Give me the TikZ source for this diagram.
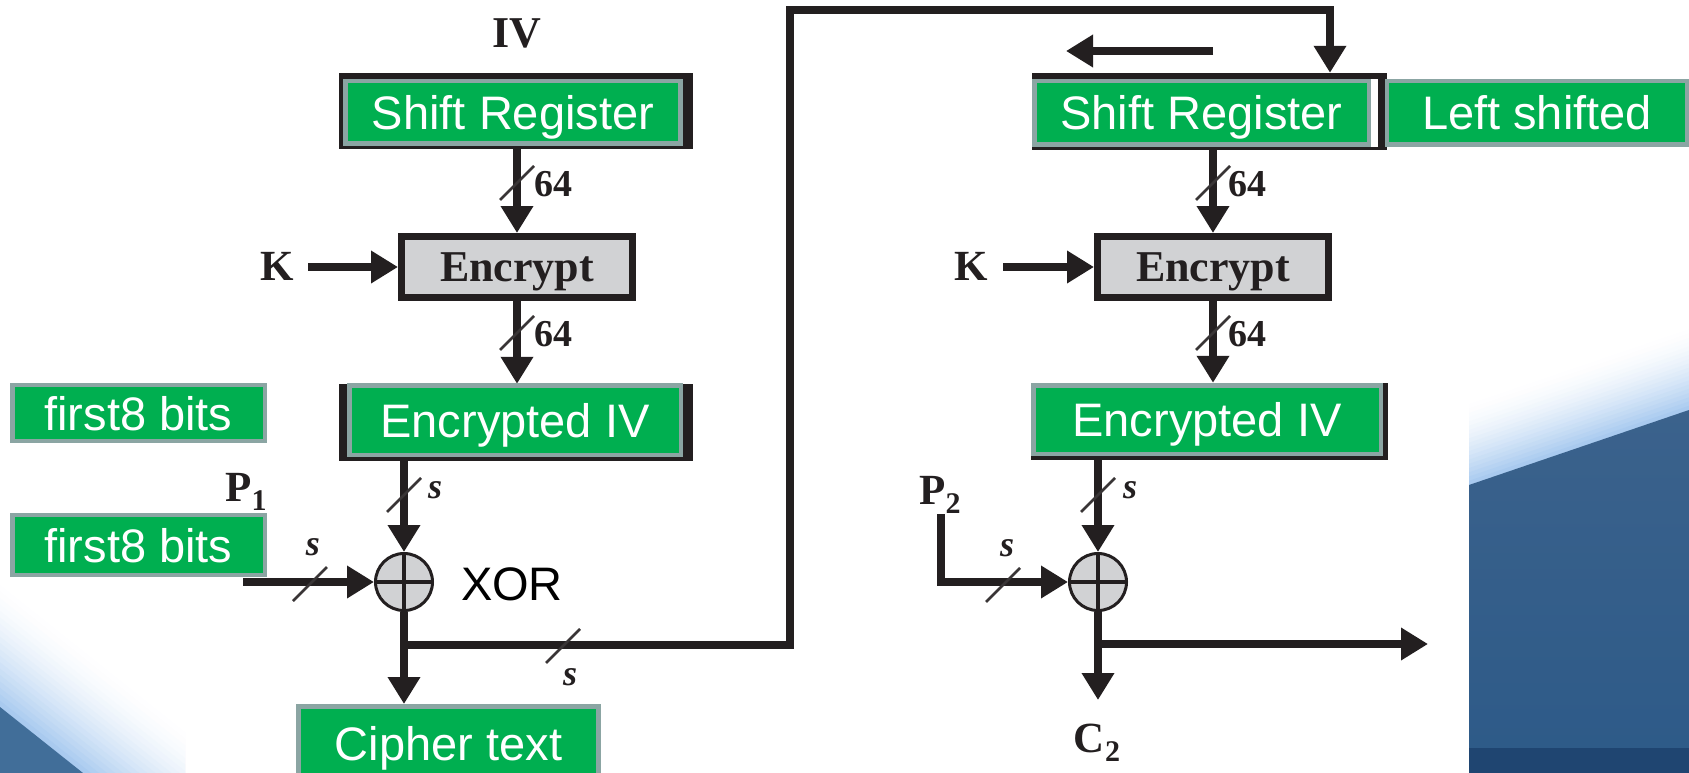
\documentclass[tikz,border=0pt]{standalone}
\usepackage{fontspec}
\setmainfont{Liberation Serif}
\newfontfamily\arialf{Liberation Sans}
\usetikzlibrary{arrows.meta,calc}
\definecolor{ink}{HTML}{231F20}
\definecolor{pgreen}{HTML}{00AF50}
\definecolor{pgrey}{HTML}{8BA5A3}
\definecolor{encgrey}{HTML}{D1D2D4}
\definecolor{lb}{HTML}{A2C6EE}
\definecolor{bgA}{HTML}{3B628C}
\definecolor{bgB}{HTML}{7D95AE}
\definecolor{bgC}{HTML}{2D5A88}
\definecolor{bgD}{HTML}{1F4571}
\definecolor{bgL}{HTML}{416E99}
\newcommand\subsc[1]{\raisebox{-9pt}{\fontsize{30}{30}\selectfont #1}}
\newcommand\slashmark[1]{\draw[tick] ($#1+(-17,17)$) -- ++(34,-34);}
\tikzset{
  greenbox/.style={rectangle, draw=pgrey, line width=4.5pt, fill=pgreen, text=white,
    font=\arialf\fontsize{47}{47}\selectfont, inner sep=0pt, text height=34pt, text depth=0pt},
  blackbg/.style={rectangle, fill=ink, draw=none, inner sep=0pt},
  encbox/.style={rectangle, draw=ink, line width=7pt, fill=encgrey, text=ink,
    font=\bfseries\fontsize{44}{44}\selectfont, minimum width=231pt, minimum height=61pt,
    inner sep=0pt, text height=29pt, text depth=0pt},
  lbl/.style={text=ink, font=\bfseries\fontsize{43}{43}\selectfont, inner sep=0pt, text height=29pt, text depth=0pt},
  num/.style={text=ink, font=\bfseries\fontsize{38}{38}\selectfont, inner sep=0pt, text height=26pt, text depth=0pt},
  slbl/.style={text=ink, font=\bfseries\itshape\fontsize{36}{36}\selectfont, inner sep=0pt, text height=17pt, text depth=0pt},
  wire/.style={draw=ink, line width=7.5pt},
  arr/.style={wire, -{Triangle[length=27pt,width=31pt]}},
  tick/.style={draw=ink!90, line width=2.8pt},
  xorc/.style={circle, draw=ink, line width=3pt, fill=encgrey, minimum size=57pt, inner sep=0pt},
  xortext/.style={text=black, font=\arialf\fontsize{47}{47}\selectfont, inner sep=0pt, text height=34pt, text depth=0pt}
}
\begin{document}
\begin{tikzpicture}[x=1pt,y=-1pt]
\useasboundingbox (0,0) rectangle (1689,773);
\fill[white] (0,0) rectangle (1689,773);
% ---------- background swooshes ----------
\begin{scope}
  \clip (0,520) rectangle (185,773);
  \foreach \d in {100,95,...,0} {
    \pgfmathsetmacro\pc{100*(1-\d/100)^1.6}
    \fill[lb!\pc!white] (0,{707-1.2784*\d}) -- ({83+1.6077*\d},773) -- (0,773) -- cycle;
  }
  \fill[bgL] (0,707) -- (83,773) -- (0,773) -- cycle;
\end{scope}
\begin{scope}
  \clip (1469,300) rectangle (1689,773);
  \foreach \d in {80,76,...,0} {
    \pgfmathsetmacro\pc{100*(1-\d/80)^1.6}
    \fill[lb!\pc!white] (1469,{485-1.057*\d}) -- (1689,{410-1.057*\d}) -- (1689,773) -- (1469,773) -- cycle;
  }
  \shade[top color=bgA, middle color=bgB, bottom color=bgC] (1469,485) -- (1689,410) -- (1689,773) -- (1469,773) -- cycle;
  \fill[bgD] (1469,748) rectangle (1689,773);
\end{scope}
% ---------- left column ----------
\node[lbl, font=\bfseries\fontsize{44}{44}\selectfont] (iv) at (517,33) {IV};
\node[blackbg, minimum width=354pt, minimum height=76pt] (sr1bg) at (516,111) {};
\node[encbox] (enc1) at (517,267) {Encrypt};
\node[lbl] (k1) at (277,266) {K};
\coordinate (k1s) at (308,267);
\node[blackbg, minimum width=354pt, minimum height=77pt] (eiv1bg) at (516,422.5) {};
\node[xorc] (xor1) at (404,582) {};
\node[num] (n1) at (553,183) {64};
\node[num] (n2) at (553,333) {64};
\node[lbl] (p1) at (246,487) {P\subsc{1}};
\coordinate (in1) at (243,582);
\node[slbl] (s1) at (313,547) {s};
\node[slbl] (s2) at (435,490) {s};
\node[slbl] (s3) at (570,677) {s};
\node[xortext] (xorlbl) at (512,583) {XOR};
\coordinate (j1) at (404,645);
\coordinate (c1) at (790,645);
\coordinate (c2) at (790,10);
\coordinate (c3) at (1330,10);
% ---------- right column ----------
\node[blackbg, minimum width=355pt, minimum height=77pt] (sr2bg) at (1209.5,111.5) {};
\node[rectangle, fill=white, inner sep=0pt, minimum width=7pt, minimum height=68pt] (gap) at (1374.5,113) {};
\coordinate (la1) at (1213,51);
\coordinate (la2) at (1066,51);
\node[encbox] (enc2) at (1213,267) {Encrypt};
\node[lbl] (k2) at (971,266) {K};
\coordinate (k2s) at (1003,267);
\node[blackbg, minimum width=357pt, minimum height=77pt] (eiv2bg) at (1209.5,421.5) {};
\node[xorc] (xor2) at (1098,582) {};
\node[num] (n3) at (1247,183) {64};
\node[num] (n4) at (1247,333) {64};
\node[lbl] (p2) at (940,490) {P\subsc{2}};
\coordinate (p2a) at (941,514);
\coordinate (p2b) at (941,582);
\node[slbl] (s4) at (1130,490) {s};
\node[slbl] (s5) at (1007,548) {s};
\coordinate (j2) at (1098,644);
\coordinate (out2) at (1428,644);
\node[lbl] (c2lbl) at (1097,738) {C\subsc{2}};
% ---------- wires ----------
\draw[arr] (enc1.north |- sr1bg.south) -- (enc1.north);
\draw[arr] (enc1.south) -- (enc1.south |- eiv1bg.north);
\draw[arr] (k1s) -- (enc1.west);
\draw[arr] (xor1 |- eiv1bg.south) -- (xor1.north);
\draw[arr] (in1) -- (xor1.west);
\draw[wire, line join=miter] (j1) -- (c1) -- (c2) -- (c3) -- ($(c3)+(0,2)$);
\draw[arr] (c3) -- (c3 |- sr2bg.north);
\draw[arr] (la1) -- (la2);
\draw[arr] (enc2.north |- sr2bg.south) -- (enc2.north);
\draw[arr] (enc2.south) -- (enc2.south |- eiv2bg.north);
\draw[arr] (k2s) -- (enc2.west);
\draw[arr] (xor2 |- eiv2bg.south) -- (xor2.north);
\draw[arr, line join=miter] (p2a) -- (p2b) -- (xor2.west);
\draw[arr] (j2) -- (out2);
\coordinate (c2t) at (1098,700);
\draw[arr] (xor2.south) -- (c2t);
% XOR crosses
\draw[ink, line width=3.5pt] (xor1.north) -- (xor1.south) (xor1.west) -- (xor1.east);
\draw[ink, line width=3.5pt] (xor2.north) -- (xor2.south) (xor2.west) -- (xor2.east);
% slash marks
\slashmark{(517,183)}
\slashmark{(517,333)}
\slashmark{(404,495)}
\slashmark{(310,584)}
\slashmark{(563,646)}
\slashmark{(1213,183)}
\slashmark{(1213,333)}
\slashmark{(1098,495)}
\slashmark{(1003,585)}
% ---------- green boxes ----------
\node[greenbox, minimum width=335pt, minimum height=62.5pt] (sr1) at (513,112.5) {Shift Register};
\node[greenbox, minimum width=331.5pt, minimum height=69.5pt] (eiv1) at (515,420) {Encrypted IV};
\node[greenbox, minimum width=252.5pt, minimum height=56pt] (f1) at (138.5,413) {first8 bits};
\node[greenbox, minimum width=252.5pt, minimum height=60pt] (f2) at (138.5,545) {first8 bits};
\node[greenbox, minimum width=300pt, minimum height=74pt, anchor=north] (ct) at (448.5,704) {Cipher text};
\draw[arr] (xor1.south) -- (xor1.south |- ct.north);
\node[greenbox, minimum width=334.5pt, minimum height=63.5pt] (sr2) at (1201.5,113) {Shift Register};
\node[greenbox, minimum width=300pt, minimum height=63.5pt] (ls) at (1537,113) {Left shifted};
\node[greenbox, minimum width=347.5pt, minimum height=68.5pt] (eiv2) at (1207,419.5) {Encrypted IV};
\end{tikzpicture}
\end{document}
